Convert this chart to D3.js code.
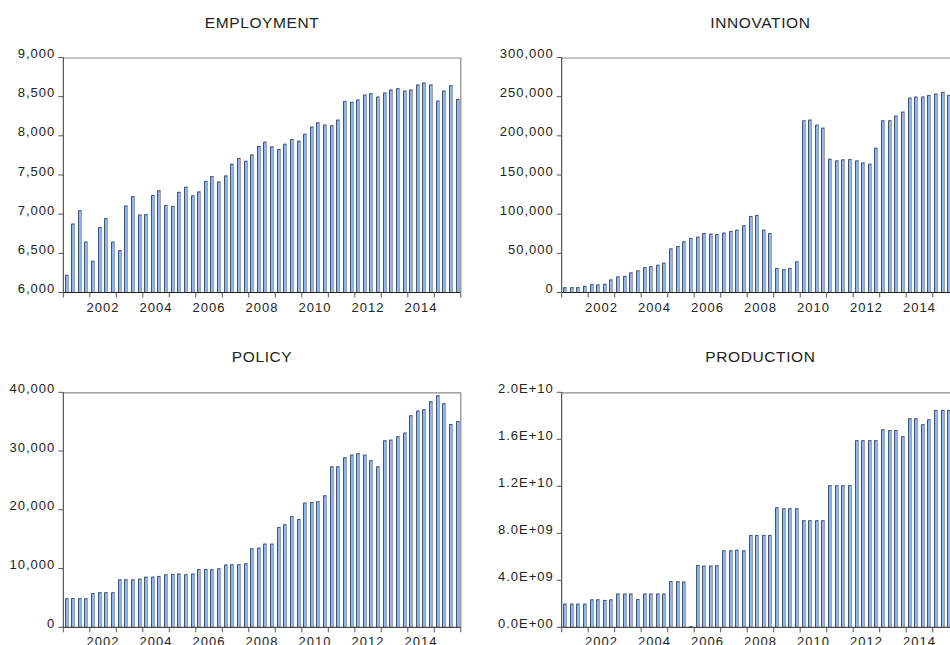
<!DOCTYPE html>
<html lang="en">
<head>
    <meta charset="UTF-8">
    <title>Quarterly series</title>
    <style>
        body, html {
            margin: 0;
            padding: 0;
            background: #fff;
            overflow: hidden;
        }
        svg text {
            font-family: "Liberation Sans", Arial, sans-serif;
            fill: #222;
        }
        .title { font-size: 15.5px; letter-spacing: 0.6px; }
        .tick-label { font-size: 13px; letter-spacing: 1px; }
    </style>
    <script src="https://d3js.org/d3.v7.min.js"></script>
</head>
<body>
    <div id="chart"></div>
    <script>
        // quarterly data, 2001Q1 - 2015Q4
        const years = [2001, 2002, 2003, 2004, 2005, 2006, 2007, 2008, 2009, 2010, 2011, 2012, 2013, 2014, 2015];
        const quarters = years.flatMap(y => ["Q1", "Q2", "Q3", "Q4"].map(q => y + q));
        const yearLabels = [2002, 2004, 2006, 2008, 2010, 2012, 2014];

        const employment = [
            6225, 6880, 7050, 6650, 6405, 6835, 6950, 6650,
            6540, 7110, 7230, 6995, 7000, 7245, 7305, 7118,
            7105, 7285, 7350, 7240, 7290, 7425, 7485, 7417,
            7494, 7643, 7716, 7682, 7763, 7869, 7925, 7865,
            7831, 7899, 7959, 7938, 8027, 8117, 8172, 8143,
            8134, 8207, 8446, 8433, 8463, 8527, 8544, 8501,
            8552, 8591, 8608, 8578, 8591, 8655, 8680, 8655,
            8450, 8578, 8646, 8471
        ];
        const innovation = [
            6800, 6800, 6800, 8500, 10700, 10200, 11100, 16600,
            20500, 21300, 25600, 28200, 32400, 33700, 35400, 38000,
            56300, 59300, 65300, 69600, 71300, 76000, 75100, 74700,
            76400, 78500, 80200, 85800, 97700, 99000, 80200, 76000,
            31200, 29900, 31200, 39700, 219800, 220700, 214300, 210400,
            170700, 168600, 169900, 170300, 168600, 166000, 164300, 184800,
            219800, 219800, 225800, 230900, 248800, 250100, 250100, 252200,
            253900, 256100, 252200, 252000
        ];
        const policy = [
            4940, 4990, 4940, 4940, 5840, 5960, 5960, 5960,
            8170, 8170, 8170, 8280, 8620, 8620, 8740, 9020,
            9080, 9140, 9020, 9140, 9930, 9930, 9870, 10040,
            10670, 10720, 10720, 10890, 13450, 13560, 14240, 14240,
            17080, 17530, 18950, 18440, 21220, 21330, 21450, 22470,
            27400, 27400, 28940, 29390, 29620, 29390, 28430, 27400,
            31830, 31940, 32510, 33140, 36090, 36880, 37110, 38470,
            39490, 38130, 34610, 35120
        ];
        const production = [
            2.01e9, 2.01e9, 2.01e9, 2.01e9, 2.38e9, 2.38e9, 2.33e9, 2.38e9,
            2.87e9, 2.87e9, 2.87e9, 2.41e9, 2.87e9, 2.87e9, 2.87e9, 2.87e9,
            3.94e9, 3.92e9, 3.89e9, 0.09e9, 5.30e9, 5.25e9, 5.25e9, 5.28e9,
            6.55e9, 6.55e9, 6.61e9, 6.55e9, 7.86e9, 7.86e9, 7.86e9, 7.86e9,
            10.21e9, 10.13e9, 10.13e9, 10.13e9, 9.11e9, 9.11e9, 9.11e9, 9.11e9,
            12.09e9, 12.09e9, 12.09e9, 12.09e9, 15.92e9, 15.92e9, 15.92e9, 15.92e9,
            16.85e9, 16.79e9, 16.79e9, 16.26e9, 17.79e9, 17.79e9, 17.28e9, 17.70e9,
            18.50e9, 18.50e9, 18.50e9, 18.50e9
        ];

        const empTicks = [6000, 6500, 7000, 7500, 8000, 8500, 9000];
        const innTicks = [0, 50000, 100000, 150000, 200000, 250000, 300000];
        const polTicks = [0, 10000, 20000, 30000, 40000];
        const proTicks = [0, 4e9, 8e9, 1.2e10, 1.6e10, 2e10];

        const sciFormat = v => {
            if (v === 0) return "0.0E+00";
            const e = Math.floor(Math.log10(v));
            return (v / Math.pow(10, e)).toFixed(1) + "E+" + String(e).padStart(2, "0");
        };

        const W = 950, H = 645;
        const plotW = 397.5, plotH = 235;

        const panels = [
            { title: "EMPLOYMENT", values: employment, ticks: empTicks, fmt: d3.format(","), left: 63.3, top: 57.5 },
            { title: "INNOVATION", values: innovation, ticks: innTicks, fmt: d3.format(","), left: 561.7, top: 57.5 },
            { title: "POLICY", values: policy, ticks: polTicks, fmt: d3.format(","), left: 63.3, top: 392.3 },
            { title: "PRODUCTION", values: production, ticks: proTicks, fmt: sciFormat, left: 561.7, top: 392.3 }
        ];

        const svg = d3.select("#chart").append("svg")
            .attr("width", W)
            .attr("height", H);

        panels.forEach(p => {
            const g = svg.append("g").attr("transform", `translate(${p.left},${p.top})`);

            const x = d3.scaleBand()
                .domain(quarters)
                .range([0, plotW])
                .paddingInner(0.4)
                .paddingOuter(0.2);

            const xYear = d3.scaleLinear()
                .domain([years[0], years[years.length - 1] + 1])
                .range([0, plotW]);

            const y = d3.scaleLinear()
                .domain(d3.extent(p.ticks))
                .range([plotH, 0]);

            // frame: top and right in grey
            g.append("path")
                .attr("d", `M0,0.5H${plotW}V${plotH}`)
                .attr("fill", "none")
                .attr("stroke", "#8a8a8a")
                .attr("stroke-width", 1.2);

            // bars
            const bw = 4;
            const bars = g.append("g");
            p.values.forEach((v, i) => {
                const bx = Math.round(p.left + x(quarters[i])) - p.left;
                const by = y(v);
                const h = plotH - by;
                if (h <= 0) return;
                bars.append("rect")
                    .attr("x", bx)
                    .attr("y", by)
                    .attr("width", bw)
                    .attr("height", h)
                    .attr("fill", "#8cb5f7");
                bars.append("path")
                    .attr("d", `M${bx + 0.5},${plotH}V${by + 0.5}H${bx + bw - 0.5}`)
                    .attr("fill", "none")
                    .attr("stroke", "#46536f")
                    .attr("stroke-width", 1);
                bars.append("path")
                    .attr("d", `M${bx + bw - 0.5},${by + 0.5}V${plotH}`)
                    .attr("fill", "none")
                    .attr("stroke", "#a3a3a3")
                    .attr("stroke-width", 1);
            });

            // left axis
            g.append("line")
                .attr("x1", 0).attr("x2", 0)
                .attr("y1", 0).attr("y2", plotH)
                .attr("stroke", "#333");
            p.ticks.forEach(t => {
                g.append("line")
                    .attr("x1", -5).attr("x2", 0)
                    .attr("y1", y(t)).attr("y2", y(t))
                    .attr("stroke", "#555");
                g.append("text")
                    .attr("class", "tick-label")
                    .attr("x", -8)
                    .attr("y", y(t) + 0.5)
                    .attr("text-anchor", "end")
                    .text(p.fmt(t));
            });

            // bottom axis
            g.append("line")
                .attr("x1", 0).attr("x2", plotW)
                .attr("y1", plotH).attr("y2", plotH)
                .attr("stroke", "#222");
            d3.range(years[0], years[years.length - 1] + 2).forEach(yr => {
                g.append("line")
                    .attr("x1", xYear(yr)).attr("x2", xYear(yr))
                    .attr("y1", plotH).attr("y2", plotH + 5)
                    .attr("stroke", "#555");
            });
            yearLabels.forEach(yr => {
                g.append("text")
                    .attr("class", "tick-label")
                    .attr("x", xYear(yr + 0.5))
                    .attr("y", plotH + 19)
                    .attr("text-anchor", "middle")
                    .text(yr);
            });

            // title
            svg.append("text")
                .attr("class", "title")
                .attr("x", p.left + plotW / 2)
                .attr("y", p.top - 30)
                .attr("text-anchor", "middle")
                .text(p.title);
        });
    </script>
</body>
</html>
